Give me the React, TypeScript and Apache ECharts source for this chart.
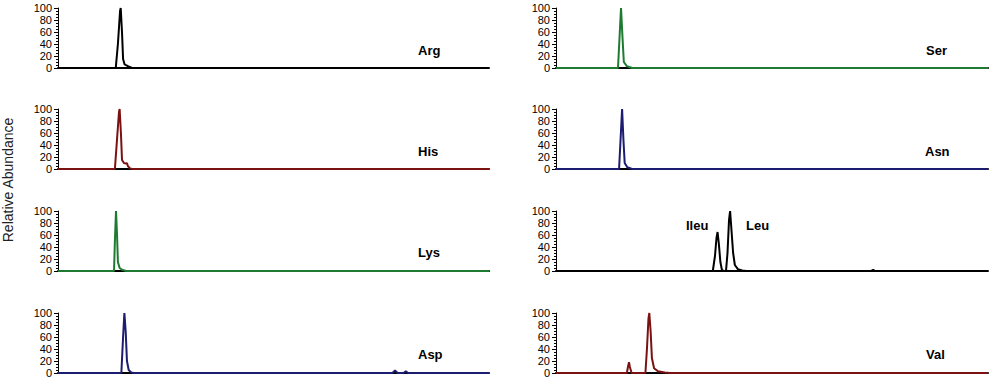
import React, { useEffect, useRef } from "react";
import * as echarts from "echarts";

// Retention axis in arbitrary units 0..100, abundance in %
const argX = [0, 13.4, 13.9, 14.4, 14.55, 14.85, 15.1, 15.45, 16.0, 16.5, 17.2, 100];
const argY = [0, 0, 40, 95, 100, 60, 15, 6, 4, 2, 0, 0];

const hisX = [0, 13.2, 13.7, 14.15, 14.3, 14.6, 14.85, 15.3, 15.8, 16.0, 16.2, 16.7, 17.2, 100];
const hisY = [0, 0, 50, 95, 100, 60, 15, 10, 9, 10, 5, 1, 0, 0];

const lysX = [0, 13.0, 13.2, 13.46, 13.7, 13.9, 14.3, 14.85, 15.8, 100];
const lysY = [0, 0, 50, 100, 60, 15, 5, 2, 0, 0];

const aspX = [0, 14.7, 15.1, 15.4, 15.7, 16.0, 16.4, 17.0, 17.6, 77.6, 78.2, 78.8, 80.2, 80.7, 81.2, 100];
const aspY = [0, 0, 60, 100, 70, 20, 5, 1, 0, 0, 4, 0, 0, 3, 0, 0];

const serX = [0, 14.35, 14.7, 15.05, 15.4, 15.7, 16.4, 17.6, 100];
const serY = [0, 0, 50, 100, 50, 10, 3, 0, 0];

const asnX = [0, 14.6, 14.95, 15.3, 15.6, 15.9, 16.5, 17.6, 100];
const asnY = [0, 0, 50, 100, 50, 10, 3, 0, 0];

const leuX = [0, 36.3, 36.8, 37.15, 37.4, 37.7, 38.05, 38.4, 38.9, 39.35, 39.7, 40.05, 40.3, 40.6, 41.0, 41.4, 42.1, 43.1, 44.0, 72.9, 73.4, 73.9, 100];
const leuY = [0, 0, 25, 55, 65, 45, 15, 2, 0, 0, 30, 85, 100, 70, 30, 10, 3, 1, 0, 0, 2, 0, 0];

const valX = [0, 16.4, 16.65, 16.9, 17.1, 17.5, 20.7, 21.05, 21.4, 21.6, 21.9, 22.2, 22.7, 23.6, 25.2, 26.4, 100];
const valY = [0, 0, 10, 18, 10, 0, 0, 40, 90, 100, 70, 25, 8, 3, 1, 0, 0];

const yTicks = [0, 20, 40, 60, 80, 100];

const panels = [
  { name: "Arg", xs: argX, ys: argY, color: "#000000", col: 0, row: 0 },
  { name: "His", xs: hisX, ys: hisY, color: "#7a1212", col: 0, row: 1 },
  { name: "Lys", xs: lysX, ys: lysY, color: "#1e7a30", col: 0, row: 2 },
  { name: "Asp", xs: aspX, ys: aspY, color: "#1c1c70", col: 0, row: 3 },
  { name: "Ser", xs: serX, ys: serY, color: "#1e7a30", col: 1, row: 0 },
  { name: "Asn", xs: asnX, ys: asnY, color: "#1c1c70", col: 1, row: 1 },
  { name: "Ileu/Leu", xs: leuX, ys: leuY, color: "#000000", col: 1, row: 2 },
  { name: "Val", xs: valX, ys: valY, color: "#7a1212", col: 1, row: 3 },
];

const FONT = "'Liberation Sans', Arial, sans-serif";

export default function App() {
  const ref = useRef<HTMLDivElement>(null);
  useEffect(() => {
    if (!ref.current) return;
    const chart = echarts.init(ref.current, undefined, { renderer: "svg" });
    const colLeft = [58, 556];
    const colWidth = [431, 432];
    const rowTop = [8, 109, 211, 313];
    const grids: any[] = [];
    const xAxes: any[] = [];
    const yAxes: any[] = [];
    const series: any[] = [];
    panels.forEach((p, i) => {
      grids.push({ left: colLeft[p.col], top: rowTop[p.row], width: colWidth[p.col], height: 60 });
      xAxes.push({
        type: "value", gridIndex: i, min: 0, max: 100,
        axisLine: { show: true, onZero: false, lineStyle: { color: "#000", width: 2 } },
        axisTick: { show: false }, axisLabel: { show: false }, splitLine: { show: false },
      });
      yAxes.push({
        type: "value", gridIndex: i, min: 0, max: 100, interval: 20,
        axisLine: { show: true, lineStyle: { color: "#000", width: 1 } },
        axisTick: { show: true, length: 4, lineStyle: { color: "#000" } },
        minorTick: { show: true, splitNumber: 4, length: 2, lineStyle: { color: "#000" } },
        axisLabel: {
          margin: 6, color: "#000", fontSize: 11, lineHeight: 11, fontFamily: FONT,
          showMinLabel: true, showMaxLabel: true, hideOverlap: false,
          formatter: (v: number) => (yTicks.includes(v) ? String(v) : ""),
        },
        splitLine: { show: false },
      });
      series.push({
        type: "line", xAxisIndex: i, yAxisIndex: i, name: p.name,
        data: p.xs.map((x, k) => [x, p.ys[k]]),
        showSymbol: false, symbol: "none",
        lineStyle: { color: p.color, width: 2 },
        z: 3,
      });
    });
    const lbl = (text: string, x: number, y: number) => ({
      type: "text", left: x, top: y,
      style: { text, fill: "#000", font: `bold 13px ${FONT}` },
    });
    chart.setOption({
      animation: false,
      grid: grids,
      xAxis: xAxes,
      yAxis: yAxes,
      series,
      graphic: [
        lbl("Arg", 418, 44),
        lbl("His", 418, 145),
        lbl("Lys", 418, 246),
        lbl("Asp", 418, 348),
        lbl("Ser", 926, 44),
        lbl("Asn", 925, 145),
        lbl("Ileu", 686, 219),
        lbl("Leu", 746, 219),
        lbl("Val", 926, 348),
        {
          type: "text", x: 8, y: 180, rotation: Math.PI / 2,
          style: { text: "Relative Abundance", fill: "#222", font: `14px ${FONT}`, textAlign: "center", textVerticalAlign: "middle" },
        },
      ],
    });
    return () => chart.dispose();
  }, []);
  return <div ref={ref} style={{ position: "absolute", left: 0, top: 0, width: 1001, height: 388 }} />;
}
